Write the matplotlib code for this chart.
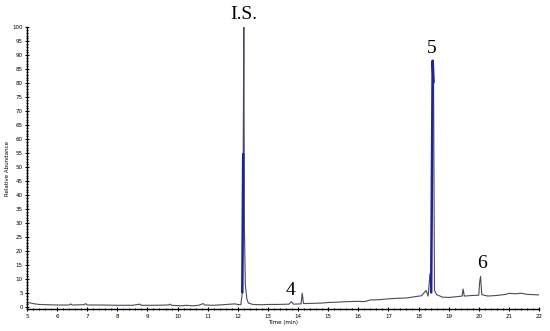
import numpy as np
import matplotlib
matplotlib.use("Agg")
import matplotlib.pyplot as plt

# retention time (min) and relative abundance
time_min = [5.0, 5.1, 5.2, 5.4, 5.7, 6.0, 6.4, 6.45, 6.5, 6.9, 6.95, 7.0, 7.5, 8.0, 8.5,
            8.75, 8.8, 9.2, 9.7, 9.75, 9.8, 10.1, 10.3, 10.5, 10.7, 10.85, 10.9, 11.2, 11.5,
            11.9, 12.0, 12.1, 12.15, 12.18, 12.20, 12.22, 12.25, 12.3, 12.35, 12.5, 12.8,
            13.0, 13.3, 13.7, 13.78, 13.85, 14.1, 14.14, 14.18, 14.5, 14.8, 15.0, 15.3, 15.6,
            16.0, 16.2, 16.4, 16.7, 17.0, 17.3, 17.6, 17.9, 18.1, 18.25, 18.32, 18.38, 18.42,
            18.47, 18.5, 18.53, 18.6, 18.8, 19.0, 19.3, 19.45, 19.48, 19.52, 19.8, 20.0,
            20.03, 20.06, 20.1, 20.3, 20.6, 20.9, 21.0, 21.2, 21.4, 21.6, 21.8, 22.0]
abundance = [1.5, 1.6, 1.3, 1.0, 0.9, 0.8, 0.8, 1.2, 0.8, 0.9, 1.3, 0.8, 0.8, 0.7, 0.7,
             1.1, 0.7, 0.7, 0.8, 1.1, 0.7, 0.5, 0.7, 0.5, 0.7, 1.3, 0.8, 0.7, 0.9,
             1.2, 1.0, 0.9, 5.0, 55.0, 100.0, 28.0, 8.0, 3.0, 1.5, 1.0, 0.9,
             1.0, 1.0, 1.1, 2.0, 1.1, 1.2, 5.0, 1.3, 1.4, 1.5, 1.7, 1.8, 2.0,
             2.1, 2.0, 2.6, 2.7, 3.0, 3.2, 3.3, 3.8, 4.1, 6.0, 4.0, 12.0, 5.0,
             88.0, 80.0, 6.0, 4.5, 3.6, 3.5, 3.8, 4.0, 6.5, 4.0, 4.2, 4.3,
             9.0, 11.0, 4.5, 4.0, 4.2, 4.6, 5.0, 4.8, 5.0, 4.6, 4.5, 4.4]

# integrated (blue) stretches of the trace: time ranges of the coloured peaks
blue_ranges = [(12.15, 12.18), (18.42, 18.5)]

peak_labels = ["I.S.", "4", "5", "6"]
peak_times = [12.2, 13.75, 18.45, 20.1]
peak_heights = [100, 1.5, 88, 11]

t = np.array(time_min)
a = np.array(abundance)

fig = plt.figure(figsize=(5.5, 3.31), dpi=100)
ax = fig.add_axes([0.049, 0.065, 0.931, 0.853])

ax.plot(t, a, color="#4a4a5a", lw=0.8)
for lo, hi in blue_ranges:
    m = (t >= lo) & (t <= hi)
    ax.plot(t[m], a[m], color="#1c2596", lw=1.8, solid_capstyle="butt")

for lab, pt, ph in zip(peak_labels, peak_times, peak_heights):
    ax.text(pt, ph + 1.5, lab, ha="center", va="bottom", fontsize=14,
            family="Liberation Serif", color="black")

ax.set_xlim(5, 22)
ax.set_ylim(-0.8, 100)
ax.set_xticks(np.arange(5, 23, 1))
ax.set_xticks(np.arange(5, 22.01, 0.2), minor=True)
ax.set_yticks(np.arange(0, 101, 5))
ax.set_yticks(np.arange(0, 101, 1), minor=True)
ax.tick_params(axis="both", which="major", labelsize=4, length=3, width=0.8, direction="inout", pad=1.5)
ax.tick_params(axis="both", which="minor", length=1.5, width=0.6, direction="inout")
ax.spines["top"].set_visible(False)
ax.spines["right"].set_visible(False)
ax.spines["left"].set_linewidth(1.0)
ax.spines["bottom"].set_linewidth(1.0)

ax.set_ylabel("Relative Abundance", fontsize=4, labelpad=2)
ax.set_xlabel("Time (min)", fontsize=4, labelpad=1)

fig.savefig("out.png", dpi=100)
